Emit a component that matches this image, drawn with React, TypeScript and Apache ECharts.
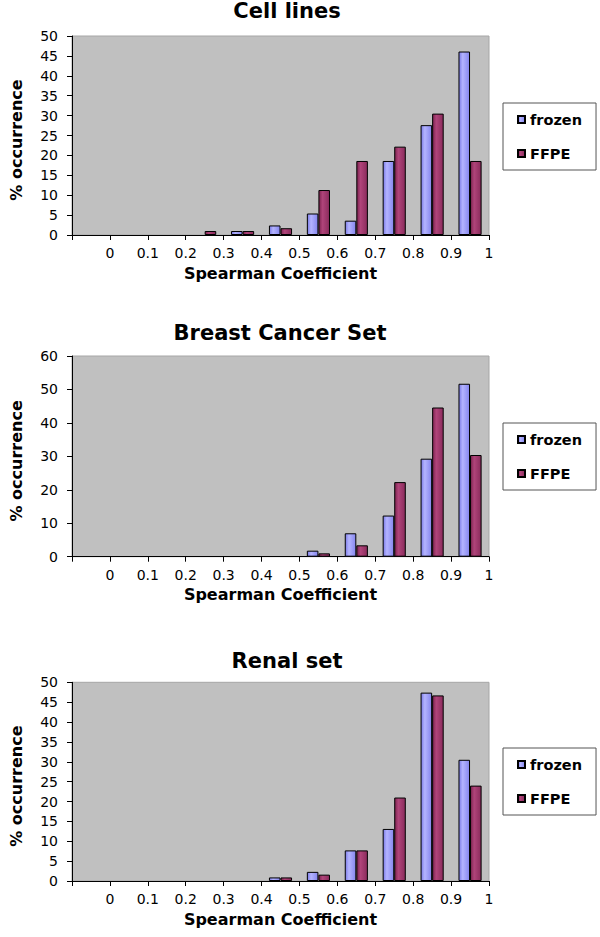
import React, { useEffect, useRef } from "react";
import * as echarts from "echarts";

const categories = ["-0.1", "0", "0.1", "0.2", "0.3", "0.4", "0.5", "0.6", "0.7", "0.8", "0.9"];
const titles = ["Cell lines", "Breast Cancer Set", "Renal set"];
const seriesNames = ["frozen", "FFPE"];

const cellFrozen = [0, 0, 0, 0, 1, 2.4, 5.4, 3.6, 18.6, 27.6, 46.1];
const cellFFPE = [0, 0, 0, 1, 1, 1.7, 11.3, 18.6, 22.2, 30.5, 18.6];
const breastFrozen = [0, 0, 0, 0, 0, 0, 1.8, 7.0, 12.3, 29.3, 51.7];
const breastFFPE = [0, 0, 0, 0, 0, 0, 1.0, 3.4, 22.3, 44.6, 30.4];
const renalFrozen = [0, 0, 0, 0, 0, 0.9, 2.3, 7.7, 13.1, 47.4, 30.5];
const renalFFPE = [0, 0, 0, 0, 0, 0.9, 1.6, 7.7, 21.0, 46.7, 24.0];

const yMax = [50, 60, 50];
const yInterval = [5, 10, 5];

const FONT = "DejaVu Sans";

const frozenColor = new echarts.graphic.LinearGradient(0, 0, 1, 0, [
  { offset: 0, color: "#7a7ae6" },
  { offset: 0.35, color: "#b4b4ff" },
  { offset: 1, color: "#8585ee" },
]);
const ffpeColor = new echarts.graphic.LinearGradient(0, 0, 1, 0, [
  { offset: 0, color: "#7d2450" },
  { offset: 0.35, color: "#b0447a" },
  { offset: 1, color: "#8a2b5c" },
]);

export default function App() {
  const ref = useRef<HTMLDivElement>(null);
  useEffect(() => {
    if (!ref.current) return;
    const chart = echarts.init(ref.current, undefined, { renderer: "svg" });
    const layouts = [
      { top: 36, height: 199, titleX: 287, titleY: 0, legendTop: 103 },
      { top: 356, height: 200.7, titleX: 280, titleY: 322, legendTop: 423 },
      { top: 682.3, height: 198.7, titleX: 287, titleY: 650, legendTop: 748 },
    ];
    const data = [
      [cellFrozen, cellFFPE],
      [breastFrozen, breastFFPE],
      [renalFrozen, renalFFPE],
    ];
    const grid: any[] = [];
    const xAxis: any[] = [];
    const yAxis: any[] = [];
    const series: any[] = [];
    const title: any[] = [];
    const legend: any[] = [];
    layouts.forEach((l, i) => {
      grid.push({
        left: 66.7,
        width: 422.3,
        top: l.top,
        height: l.height,
        show: true,
        backgroundColor: "#c0c0c0",
        borderColor: "#a6a6a6",
        borderWidth: 1,
      });
      title.push({
        text: titles[i],
        left: l.titleX,
        top: l.titleY,
        textAlign: "center",
        padding: 0,
        textStyle: { fontFamily: FONT, fontSize: 21, fontWeight: "bold", color: "#000" },
      });
      legend.push({
        data: seriesNames,
        orient: "vertical",
        left: 503,
        top: l.legendTop,
        padding: [8, 14, 8, 14],
        itemGap: 17,
        itemWidth: 7,
        itemHeight: 7,
        icon: "rect",
        borderColor: "#555",
        borderWidth: 1,
        backgroundColor: "#fff",
        selectedMode: false,
        textStyle: { fontFamily: FONT, fontSize: 14.5, fontWeight: "bold", color: "#000", lineHeight: 17 },
      });
      xAxis.push({
        type: "category",
        gridIndex: i,
        data: categories,
        boundaryGap: true,
        axisLine: { onZero: false, lineStyle: { color: "#000", width: 1 } },
        axisTick: { show: true, interval: 0, length: 5, lineStyle: { color: "#000" } },
        axisLabel: { show: false },
        splitLine: { show: false },
        name: "Spearman Coefficient",
        nameLocation: "middle",
        nameGap: 30,
        nameTextStyle: { fontFamily: FONT, fontSize: 16, fontWeight: "bold", color: "#000" },
      });
      xAxis.push({
        type: "value",
        gridIndex: i,
        min: -0.1,
        max: 1,
        interval: 0.1,
        position: "bottom",
        axisLine: { show: false, onZero: false },
        axisTick: { show: false },
        splitLine: { show: false },
        axisLabel: {
          show: true,
          margin: 11,
          fontFamily: FONT,
          fontSize: 14,
          color: "#000",
          showMinLabel: true,
          showMaxLabel: true,
          formatter: (v: number) => (v < -0.05 ? "" : String(Math.round(v * 10) / 10)),
        },
      });
      yAxis.push({
        type: "value",
        gridIndex: i,
        min: 0,
        max: yMax[i],
        interval: yInterval[i],
        position: "left",
        axisLine: { show: true, onZero: false, lineStyle: { color: "#000", width: 1 } },
        axisTick: { show: true, length: 5, lineStyle: { color: "#000" } },
        splitLine: { show: false },
        axisLabel: { margin: 14, fontFamily: FONT, fontSize: 14, color: "#000" },
        name: "% occurrence",
        nameLocation: "middle",
        nameGap: 48,
        nameTextStyle: {
          fontFamily: FONT,
          fontSize: 16,
          fontWeight: "bold",
          color: "#000",
          padding: [0, 9, 0, 0],
        },
      });
      seriesNames.forEach((name, k) => {
        series.push({
          type: "bar",
          name,
          xAxisIndex: 2 * i,
          yAxisIndex: i,
          data: data[i][k].map((v) => (v === 0 ? null : v)),
          barGap: "0%",
          barCategoryGap: "39%",
          itemStyle: {
            color: k === 0 ? frozenColor : ffpeColor,
            borderColor: "#000",
            borderWidth: 1,
          },
        });
      });
    });
    chart.setOption({
      animation: false,
      textStyle: { fontFamily: FONT },
      title,
      legend,
      grid,
      xAxis,
      yAxis,
      series,
    });
    return () => chart.dispose();
  }, []);
  return (
    <div
      ref={ref}
      style={{ position: "absolute", left: 0, top: 0, width: 600, height: 937, background: "#fff" }}
    />
  );
}
